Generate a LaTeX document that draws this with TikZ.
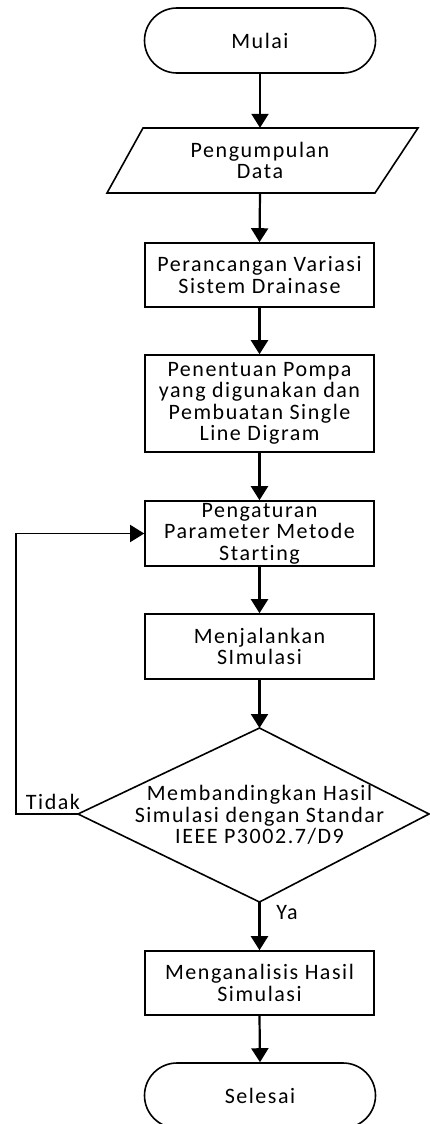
\documentclass[tikz,border=0pt]{standalone}
\usepackage{fontspec}
\setmainfont{Carlito}[LetterSpace=7,Ligatures={NoCommon}]
\usetikzlibrary{shapes.misc,arrows.meta}
\tikzset{
  txt/.style={font=\fontsize{22}{21.5}\selectfont, align=center, inner sep=0pt},
  box/.style={txt, draw, line width=1.6pt, minimum width=229pt},
  term/.style={txt, draw, line width=1.6pt, rounded rectangle, minimum width=231pt, minimum height=65pt},
  shapeline/.style={line width=1.6pt, line join=miter},
  flow/.style={line width=2.2pt, -{Triangle[width=17pt,length=14pt]}},
  loopline/.style={line width=1.6pt, -{Triangle[width=17pt,length=14pt]}},
  lbl/.style={font=\fontsize{22}{21.5}\selectfont, inner sep=0pt}
}
\begin{document}
\begin{tikzpicture}[x=1pt,y=-1pt]
\useasboundingbox (0,0) rectangle (430,1124);
\clip (0,0) rectangle (430,1124);
% terminal start
\node[term] (start) at (260,40.5) {Mulai};
% parallelogram
\draw[shapeline] (143,128) -- (418,128) -- (375,193) -- (107,193) -- cycle;
\node[txt, minimum width=230pt, minimum height=65pt] (data) at (260,160.5) {Pengumpulan\\Data};
% boxes
\node[box, minimum height=64pt] (b1) at (259.5,275) {Perancangan Variasi\\Sistem Drainase};
\node[box, minimum height=97pt] (b2) at (259.5,403.5) {Penentuan Pompa\\yang digunakan dan\\Pembuatan Single\\Line Digram};
\node[box, minimum height=65pt] (b3) at (259.5,533.5) {Pengaturan\\Parameter Metode\\Starting};
\node[box, minimum height=65pt] (b4) at (259.5,646.5) {Menjalankan\\SImulasi};
% diamond
\coordinate (dT) at (259.5,728);
\coordinate (dR) at (429,814);
\coordinate (dB) at (259.5,902);
\coordinate (dL) at (78,814);
\draw[shapeline] (dT) -- (dR) -- (dB) -- (dL) -- cycle;
\node[txt] (cmp) at (259.5,815) {Membandingkan Hasil\\Simulasi dengan Standar\\IEEE P3002.7/D9};
\node[box, minimum height=64pt] (b5) at (259.5,983) {Menganalisis Hasil\\Simulasi};
\node[term] (end) at (260,1095.5) {Selesai};
% connectors
\draw[flow] (start.south) -- (data.north);
\draw[flow] (data.south) -- (b1.north);
\draw[flow] (b1.south) -- (b2.north);
\draw[flow] (b2.south) -- (b3.north);
\draw[flow] (b3.south) -- (b4.north);
\draw[flow] (b4.south) -- (dT);
\draw[flow] (dB) -- (b5.north);
\draw[flow] (b5.south) -- (end.north);
\coordinate (lp) at (16,814);
\draw[loopline] (dL) -- (lp) |- (b3.west);
\node[lbl] (tidak) at (53,802) {Tidak};
\node[lbl] (ya) at (287,913) {Ya};
\end{tikzpicture}
\end{document}
